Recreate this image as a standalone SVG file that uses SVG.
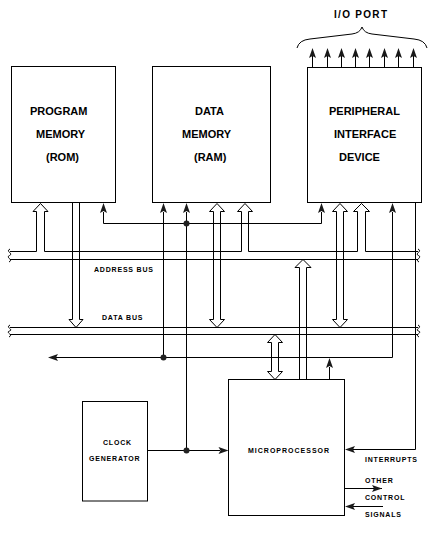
<svg xmlns="http://www.w3.org/2000/svg" xmlns:xlink="http://www.w3.org/1999/xlink" width="430" height="546" viewBox="0 0 430 546">
<style>
.box{fill:#fff;stroke:#000;stroke-width:1}
.ln{fill:none;stroke:#000;stroke-width:1}
.big{font-family:"Liberation Sans",Arial,sans-serif;font-weight:bold;font-size:11px;fill:#000}
.sm{font-family:"Liberation Sans",Arial,sans-serif;font-weight:bold;font-size:7px;letter-spacing:0.8px;fill:#000}
.io{font-family:"Liberation Sans",Arial,sans-serif;font-weight:bold;font-size:10px;letter-spacing:1.3px;fill:#000}
.dot{fill:#222}
.fah{fill:#1a1a1a}
</style>
<defs>
<path id="ah" class="fah" d="M0,0 L3.5,10 L0,8 L-3.5,10 Z"/>
</defs>
<rect width="430" height="546" fill="#fff"/>

<g id="connectors">
  <!-- address bus -->
  <g id="address-bus">
    <path class="ln" d="M10,251.5 H36.5 M44.5,251.5 H241.5 M248.5,251.5 H357.5 M365.5,251.5 H418"/>
    <path class="ln" d="M10,259.5 H418"/>
    <path class="ln" d="M10,249 C5,251.5 14,253.5 9.5,255.5 C5,257.5 14,259.5 9,262"/>
    <path class="ln" d="M418,249 C423,251.5 414,253.5 418.5,255.5 C423,257.5 414,259.5 419,262"/>
  </g>
  <!-- data bus -->
  <g id="data-bus">
    <path class="ln" d="M10,327.5 H418 M10,334.5 H418"/>
    <path class="ln" d="M10,325 C5,327.5 14,329.5 9.5,331 C5,332.5 14,334.5 9,337"/>
    <path class="ln" d="M418,325 C423,327.5 414,329.5 418.5,331 C423,332.5 414,334.5 419,337"/>
  </g>

  <!-- hollow bus arrows -->
  <path class="ln" d="M36.5,251.5 V211.5 H33 L40.5,203.5 L48,211.5 H44.5 V251.5"/>
  <path class="ln" d="M72.5,203 V319.5 H69 L76,327.5 L83,319.5 H79.5 V203"/>
  <path class="ln" d="M213.5,211.5 H209.5 L217,203.5 L224.5,211.5 H220.5 V319.5 H224.5 L217,327.5 L209.5,319.5 H213.5 Z"/>
  <path class="ln" d="M241.5,251.5 V211.5 H237.5 L245,203.5 L252.5,211.5 H248.5 V251.5"/>
  <path class="ln" d="M336.5,211.5 H332.5 L340,203.5 L347.5,211.5 H343.5 V319.5 H347.5 L340,327.5 L332.5,319.5 H336.5 Z"/>
  <path class="ln" d="M357.5,251.5 V211.5 H353.5 L361.5,203.5 L369.5,211.5 H365.5 V251.5"/>
  <path class="ln" d="M299.5,379.5 V267.5 H295 L303,259.5 L311,267.5 H306.5 V379.5"/>
  <path class="ln" d="M271.5,342.5 H267.5 L275,334.5 L282.5,342.5 H278.5 V371.5 H282.5 L275,379.5 L267.5,371.5 H271.5 Z"/>

  <!-- control lines -->
  <path class="ln" d="M103.5,212 V223.5 H321.5 V212"/>
  <use xlink:href="#ah" href="#ah" transform="translate(103.5,203)"/>
  <use xlink:href="#ah" href="#ah" transform="translate(321.5,203)"/>

  <path class="ln" d="M186.5,212 V450.5"/>
  <use xlink:href="#ah" href="#ah" transform="translate(186.5,203)"/>
  <circle class="dot" cx="186.5" cy="223.5" r="3"/>

  <path class="ln" d="M163.5,212 V357.5"/>
  <use xlink:href="#ah" href="#ah" transform="translate(163.5,203)"/>
  <path class="ln" d="M56,357.5 H392.5 V212"/>
  <use xlink:href="#ah" href="#ah" transform="translate(48,357.5) rotate(-90)"/>
  <use xlink:href="#ah" href="#ah" transform="translate(392.5,203)"/>
  <circle class="dot" cx="163.5" cy="357.5" r="3"/>

  <path class="ln" d="M329.5,379.5 V367"/>
  <use xlink:href="#ah" href="#ah" transform="translate(329.5,358)"/>

  <path class="ln" d="M415.5,202.5 V449.5 H353"/>
  <use xlink:href="#ah" href="#ah" transform="translate(345,449.5) rotate(-90)"/>

  <path class="ln" d="M147.5,450.5 H220"/>
  <use xlink:href="#ah" href="#ah" transform="translate(228.5,450.5) rotate(90)"/>
  <circle class="dot" cx="186.5" cy="450.5" r="3"/>

  <path class="ln" d="M344.5,488.5 H382"/>
  <use xlink:href="#ah" href="#ah" transform="translate(382,488.5) rotate(90)"/>
  <path class="ln" d="M383,506.5 H353"/>
  <use xlink:href="#ah" href="#ah" transform="translate(345,506.5) rotate(-90)"/>

  <!-- I/O port arrows -->
  <path class="ln" d="M312.5,67 V56 M327.5,67 V56 M341.5,67 V56 M355.5,67 V56 M369.5,67 V56 M384.5,67 V56 M398.5,67 V56 M413.5,67 V56"/>
  <use xlink:href="#ah" href="#ah" transform="translate(312.5,48)"/>
  <use xlink:href="#ah" href="#ah" transform="translate(327.5,48)"/>
  <use xlink:href="#ah" href="#ah" transform="translate(341.5,48)"/>
  <use xlink:href="#ah" href="#ah" transform="translate(355.5,48)"/>
  <use xlink:href="#ah" href="#ah" transform="translate(369.5,48)"/>
  <use xlink:href="#ah" href="#ah" transform="translate(384.5,48)"/>
  <use xlink:href="#ah" href="#ah" transform="translate(398.5,48)"/>
  <use xlink:href="#ah" href="#ah" transform="translate(413.5,48)"/>
</g>

<g id="io-port">
  <path class="ln" d="M297,48 Q299,40 310,39 L352,34 Q360,33 362,27 Q364,33 372,34 L414,39 Q425,40 427,48"/>
  <text class="io" x="334" y="17.5">I/O PORT</text>
</g>

<g id="program-memory">
  <rect class="box" x="11.5" y="66.5" width="104" height="136"/>
  <text class="big" x="30" y="115">PROGRAM</text>
  <text class="big" x="36" y="138">MEMORY</text>
  <text class="big" x="46" y="161">(ROM)</text>
</g>

<g id="data-memory">
  <rect class="box" x="152.5" y="66.5" width="118" height="136"/>
  <text class="big" x="195" y="115">DATA</text>
  <text class="big" x="182" y="138">MEMORY</text>
  <text class="big" x="194" y="161">(RAM)</text>
</g>

<g id="peripheral-interface-device">
  <rect class="box" x="307.5" y="67.5" width="114" height="135"/>
  <text class="big" x="329" y="115">PERIPHERAL</text>
  <text class="big" x="334" y="138">INTERFACE</text>
  <text class="big" x="339" y="161">DEVICE</text>
</g>

<g id="clock-generator">
  <rect class="box" x="82.5" y="401.5" width="65" height="99.5"/>
  <text class="sm" x="103" y="444.5">CLOCK</text>
  <text class="sm" x="89" y="461">GENERATOR</text>
</g>

<g id="microprocessor">
  <rect class="box" x="228.5" y="379.5" width="116" height="136"/>
  <text class="sm" x="248" y="453" style="letter-spacing:1px">MICROPROCESSOR</text>
</g>

<g id="labels">
  <text class="sm" x="94" y="272">ADDRESS BUS</text>
  <text class="sm" x="102" y="319.5">DATA BUS</text>
  <text class="sm" x="365" y="461.5">INTERRUPTS</text>
  <text class="sm" x="365" y="483">OTHER</text>
  <text class="sm" x="365" y="499.5">CONTROL</text>
  <text class="sm" x="365" y="517">SIGNALS</text>
</g>
</svg>
